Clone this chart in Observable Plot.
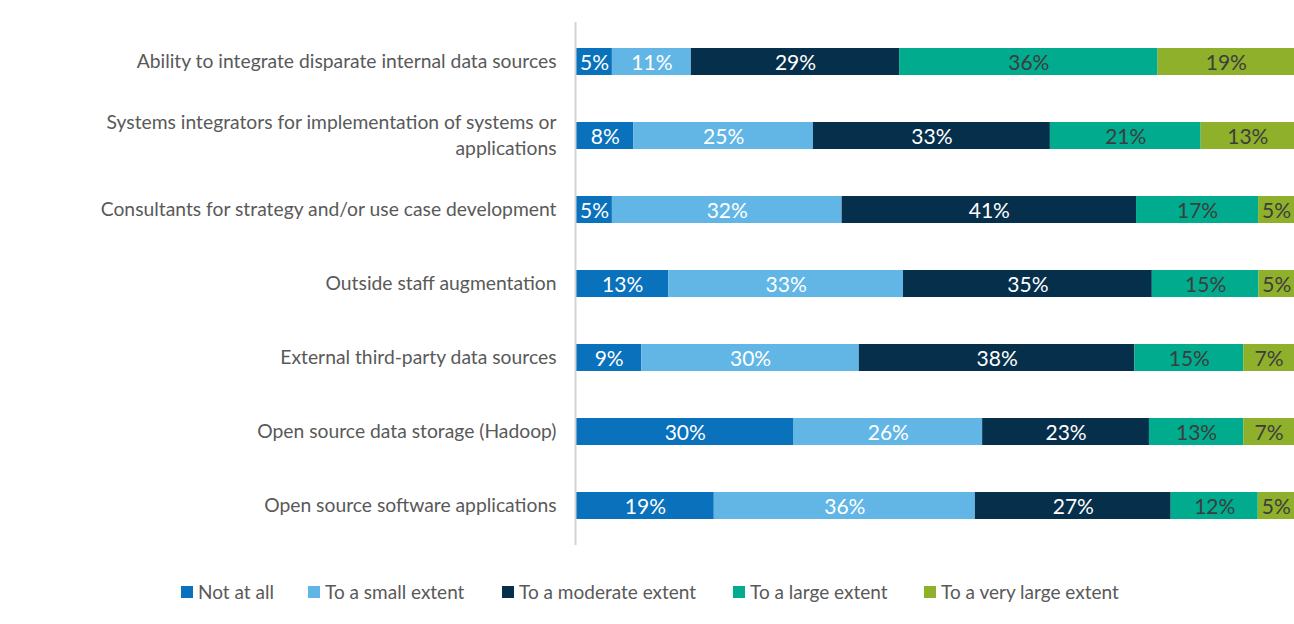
<!DOCTYPE html>
<html>
<head>
<meta charset="utf-8">
<script src="https://cdn.jsdelivr.net/npm/d3@7"></script>
<script src="https://cdn.jsdelivr.net/npm/@observablehq/plot@0.6"></script>
<style>
  html, body { margin: 0; padding: 0; background: #fff; }
  body { font-family: Lato, "Open Sans", sans-serif; width: 1294px; }
  #legend { position: relative; height: 24px; margin-top: 20px; font-size: 19px; line-height: 24px; color: #595959; }
  #legend .item { position: absolute; top: 0; display: flex; align-items: center; white-space: nowrap; }
  #legend .sw { width: 12px; height: 12px; margin-right: 5px; }
</style>
</head>
<body>
<div id="chart"></div>
<div id="legend"></div>
<script>
const categories = [
  "Ability to integrate disparate internal data sources",
  "Systems integrators for implementation of systems or applications",
  "Consultants for strategy and/or use case development",
  "Outside staff augmentation",
  "External third-party data sources",
  "Open source data storage (Hadoop)",
  "Open source software applications"
];
const categoryLabels = [
  "Ability to integrate disparate internal data sources",
  "Systems integrators for implementation of systems or\napplications",
  "Consultants for strategy and/or use case development",
  "Outside staff augmentation",
  "External third-party data sources",
  "Open source data storage (Hadoop)",
  "Open source software applications"
];
const seriesNames = ["Not at all", "To a small extent", "To a moderate extent", "To a large extent", "To a very large extent"];
const notAtAll      = [5, 8, 5, 13, 9, 30, 19];
const smallExtent   = [11, 25, 32, 33, 30, 26, 36];
const moderate      = [29, 33, 41, 35, 38, 23, 27];
const largeExtent   = [36, 21, 17, 15, 15, 13, 12];
const veryLarge     = [19, 13, 5, 5, 7, 7, 5];
const seriesColors = ["#0a71bc", "#62b6e6", "#062f4c", "#00ab8e", "#8fb02b"];
const labelColors  = ["#ffffff", "#ffffff", "#ffffff", "#3d3d3d", "#3d3d3d"];
const legendLeft = [181, 308, 502, 733, 924];

const seriesValues = [notAtAll, smallExtent, moderate, largeExtent, veryLarge];
const data = [];
categories.forEach((c, i) => {
  seriesNames.forEach((s, j) => {
    data.push({cat: c, series: s, value: seriesValues[j][i], labelColor: labelColors[j]});
  });
});
const labelMap = new Map(categories.map((c, i) => [c, categoryLabels[i]]));

const chart = Plot.plot({
  width: 1294,
  height: 560,
  marginTop: 22,
  marginBottom: 15,
  marginLeft: 576,
  marginRight: 0,
  style: {fontFamily: "Lato, 'Open Sans', sans-serif", background: "#fff"},
  x: {axis: null},
  y: {domain: categories, paddingInner: 0.64, paddingOuter: 0.32, label: null},
  color: {domain: seriesNames, range: seriesColors},
  marks: [
    Plot.barX(data, Plot.stackX({x: "value", y: "cat", z: "series", fill: "series", offset: "normalize", order: seriesNames})),
    Plot.text(data, Plot.stackX({x: "value", y: "cat", z: "series", offset: "normalize", order: seriesNames,
      text: d => d.value + "%", fill: "labelColor", fontSize: 21, dy: 1})),
    Plot.ruleX([0], {stroke: "#d4d4d4", strokeWidth: 2, dx: -1}),
    Plot.axisY({tickSize: 0, tickPadding: 20, fontSize: 19.3, fill: "#595959", dy: -2, tickFormat: d => labelMap.get(d), lineHeight: 1.35})
  ]
});
document.getElementById("chart").appendChild(chart);

const legend = document.getElementById("legend");
seriesNames.forEach((s, i) => {
  const item = document.createElement("div");
  item.className = "item";
  item.style.left = legendLeft[i] + "px";
  const sw = document.createElement("span");
  sw.className = "sw";
  sw.style.background = seriesColors[i];
  const t = document.createElement("span");
  t.textContent = s;
  item.appendChild(sw); item.appendChild(t);
  legend.appendChild(item);
});
</script>
</body>
</html>
